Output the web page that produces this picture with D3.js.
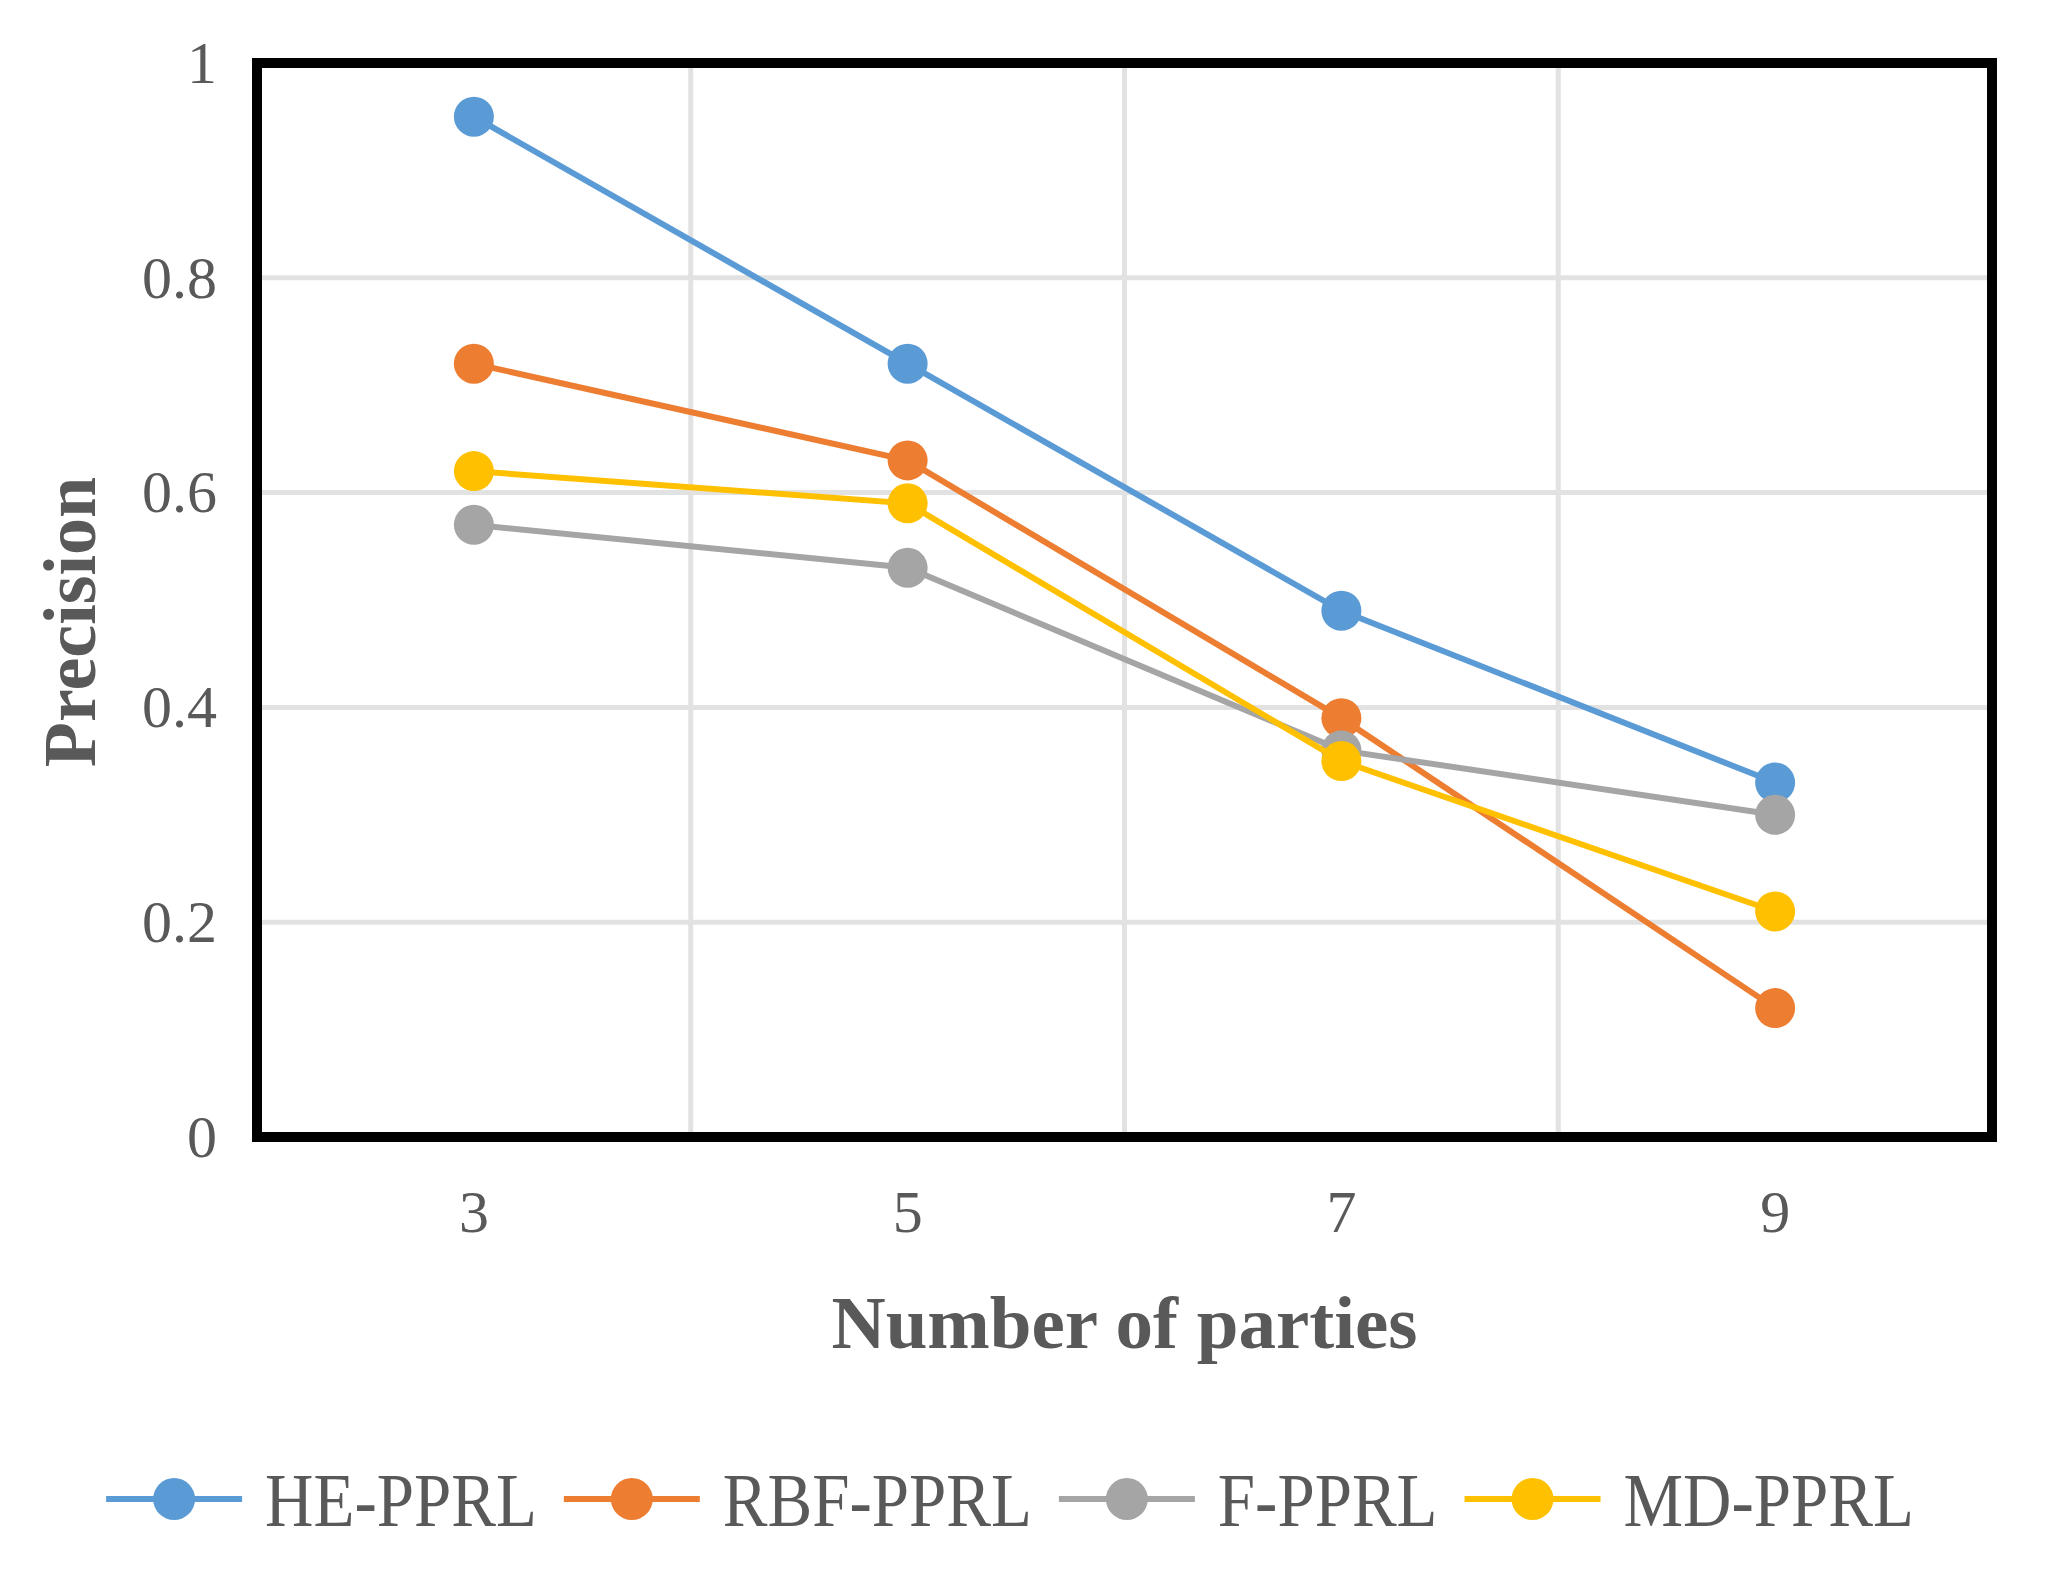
<!DOCTYPE html>
<html>
<head>
<meta charset="utf-8">
<script src="https://cdn.jsdelivr.net/npm/d3@7"></script>
<style>
  body { margin: 0; background: #fff; }
  text { font-family: "Liberation Serif", "Times New Roman", serif; fill: #595959; }
</style>
</head>
<body>
<svg id="chart" width="2046" height="1571"></svg>
<script>
// chart data
var parties = ["3", "5", "7", "9"];
var seriesNames = ["HE-PPRL", "RBF-PPRL", "F-PPRL", "MD-PPRL"];
var seriesColors = ["#5B9BD5", "#ED7D31", "#A5A5A5", "#FFC000"];
var hePprl  = [0.95, 0.72, 0.49, 0.33];
var rbfPprl = [0.72, 0.63, 0.39, 0.12];
var fPprl   = [0.57, 0.53, 0.36, 0.30];
var mdPprl  = [0.62, 0.59, 0.35, 0.21];
var yTicks = [0, 0.2, 0.4, 0.6, 0.8, 1];
var yTickLabels = ["0", "0.2", "0.4", "0.6", "0.8", "1"];

var series = [hePprl, rbfPprl, fPprl, mdPprl].map(function(vals, i){
  return { name: seriesNames[i], color: seriesColors[i], values: vals };
});

var svg = d3.select("#chart");
var plot = { left: 257, right: 1992, top: 63, bottom: 1137 };

var x = d3.scaleBand().domain(parties).range([plot.left, plot.right]);
var y = d3.scaleLinear().domain([0, 1]).range([plot.bottom, plot.top]);

// gridlines
var grid = svg.append("g").attr("class", "grid");
grid.selectAll("line.h")
  .data(yTicks.slice(1, -1))
  .enter().append("line")
  .attr("x1", plot.left).attr("x2", plot.right)
  .attr("y1", function(d){ return y(d); })
  .attr("y2", function(d){ return y(d); })
  .attr("stroke", "#e2e2e2").attr("stroke-width", 5);
grid.selectAll("line.v")
  .data(parties.slice(1))
  .enter().append("line")
  .attr("x1", function(d){ return x(d); })
  .attr("x2", function(d){ return x(d); })
  .attr("y1", plot.top).attr("y2", plot.bottom)
  .attr("stroke", "#e2e2e2").attr("stroke-width", 5);

// axes (labels only)
var yAxis = d3.axisLeft(y).tickValues(yTicks)
  .tickFormat(function(d, i){ return yTickLabels[i]; })
  .tickSize(0).tickPadding(40);
var gy = svg.append("g").attr("transform", "translate(" + plot.left + ",0)").call(yAxis);
gy.select(".domain").remove();
gy.selectAll("text").style("font-size", "60px").attr("fill", "#595959")
  .style("font-family", "Liberation Serif");

var xAxis = d3.axisBottom(x).tickSize(0).tickPadding(52);
var gx = svg.append("g").attr("transform", "translate(0," + plot.bottom + ")").call(xAxis);
gx.select(".domain").remove();
gx.selectAll("text").style("font-size", "60px").attr("fill", "#595959")
  .style("font-family", "Liberation Serif");

// lines + markers
var line = d3.line()
  .x(function(d, i){ return x(parties[i]) + x.bandwidth() / 2; })
  .y(function(d){ return y(d); });

series.forEach(function(s){
  var g = svg.append("g");
  g.append("path")
    .attr("d", line(s.values))
    .attr("fill", "none")
    .attr("stroke", s.color)
    .attr("stroke-width", 6);
  g.selectAll("circle")
    .data(s.values)
    .enter().append("circle")
    .attr("cx", function(d, i){ return x(parties[i]) + x.bandwidth() / 2; })
    .attr("cy", function(d){ return y(d); })
    .attr("r", 20)
    .attr("fill", s.color);
});

// plot border
svg.append("rect")
  .attr("x", plot.left).attr("y", plot.top)
  .attr("width", plot.right - plot.left)
  .attr("height", plot.bottom - plot.top)
  .attr("fill", "none")
  .attr("stroke", "#000")
  .attr("stroke-width", 10);

// axis titles
svg.append("text")
  .attr("transform", "translate(95,622) rotate(-90)")
  .attr("text-anchor", "middle")
  .style("font-size", "74px")
  .style("font-weight", "bold")
  .text("Precision");

svg.append("text")
  .attr("x", (plot.left + plot.right) / 2)
  .attr("y", 1348)
  .attr("text-anchor", "middle")
  .style("font-size", "75px")
  .style("font-weight", "bold")
  .text("Number of parties");

// legend (text slightly stretched vertically like the original)
var legend = svg.append("g").attr("class", "legend");
var legY = 1499, lineLen = 136, gapText = 23, gapItem = 27;
var cursor = 0;
series.forEach(function(s){
  var g = legend.append("g");
  g.append("line")
    .attr("x1", cursor).attr("x2", cursor + lineLen)
    .attr("y1", legY).attr("y2", legY)
    .attr("stroke", s.color).attr("stroke-width", 6);
  g.append("circle")
    .attr("cx", cursor + lineLen / 2).attr("cy", legY)
    .attr("r", 21).attr("fill", s.color);
  var t = g.append("text")
    .attr("transform", "translate(" + (cursor + lineLen + gapText) + "," + (legY + 27) + ") scale(1,1.14)")
    .style("font-size", "67px")
    .text(s.name);
  cursor += lineLen + gapText + t.node().getComputedTextLength() + gapItem;
});
var legWidth = cursor - gapItem;
legend.attr("transform", "translate(" + (1010 - legWidth / 2) + ",0)");
</script>
</body>
</html>
